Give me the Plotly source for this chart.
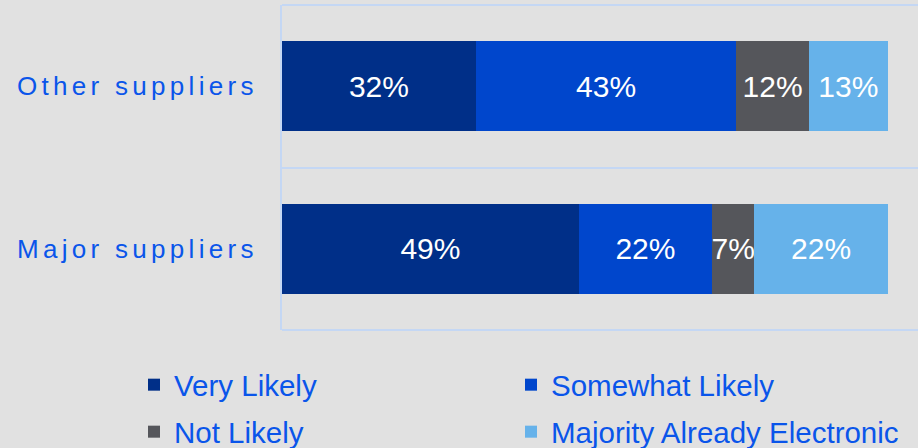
import plotly.graph_objects as go

categories = ["Major suppliers", "Other suppliers"]
series_names = ["Very Likely", "Somewhat Likely", "Not Likely", "Majority Already Electronic"]
very_likely = [49, 32]
somewhat_likely = [22, 43]
not_likely = [7, 12]
majority_electronic = [22, 13]
series_values = [very_likely, somewhat_likely, not_likely, majority_electronic]
colors = ["#002f88", "#0046cc", "#55565b", "#66b2ea"]
legend_ids = ["legend", "legend2", "legend3", "legend4"]

FONT = "Liberation Sans, Arial, sans-serif"
TEXT_BLUE = "#0a55ea"
GRID = "#c4d7f4"

fig = go.Figure()
for name, vals, col, lg in zip(series_names, series_values, colors, legend_ids):
    fig.add_trace(go.Bar(
        name=name, y=categories, x=vals, orientation="h",
        marker=dict(color=col, line=dict(width=0)),
        texttemplate="%{x}%", textposition="inside", insidetextanchor="middle",
        textangle=0,
        textfont=dict(family=FONT, size=30, color="white"),
        constraintext="none", cliponaxis=False, legend=lg,
    ))

tick_text = ['<span style="letter-spacing:4.3px">' + c + '</span>' for c in categories]

legend_common = dict(orientation="h", xref="container", xanchor="left",
                     yref="container", yanchor="middle",
                     font=dict(family=FONT, size=29.5, color=TEXT_BLUE),
                     bgcolor="rgba(0,0,0,0)", borderwidth=0)
# legend slot positions (pixels in the 918x448 figure)
col_px = [134, 511]
row_px = [385, 432]

fig.update_layout(
    barmode="stack",
    bargap=0.445,
    width=918, height=448,
    margin=dict(l=282, r=0, t=5, b=118),
    paper_bgcolor="#e1e1e1",
    plot_bgcolor="#e1e1e1",
    font=dict(family=FONT, color=TEXT_BLUE),
    uniformtext=dict(minsize=30, mode="show"),
    xaxis=dict(range=[0, 105], showgrid=False, showticklabels=False, zeroline=False,
               showline=False, fixedrange=True),
    yaxis=dict(type="category", categoryorder="array", categoryarray=categories,
               range=[-0.5, 1.5], tickson="boundaries", showgrid=True,
               gridcolor=GRID, gridwidth=2, ticks="",
               tickvals=categories, ticktext=tick_text,
               tickfont=dict(family=FONT, size=26, color=TEXT_BLUE),
               ticklabelstandoff=17,
               showline=True, linecolor=GRID, linewidth=2, zeroline=False),
    showlegend=True,
    legend=dict(legend_common, x=col_px[0] / 918, y=1 - row_px[0] / 448),
    legend2=dict(legend_common, x=col_px[1] / 918, y=1 - row_px[0] / 448),
    legend3=dict(legend_common, x=col_px[0] / 918, y=1 - row_px[1] / 448),
    legend4=dict(legend_common, x=col_px[1] / 918, y=1 - row_px[1] / 448),
    shapes=[
        dict(type="line", xref="paper", yref="paper", x0=0, x1=1, y0=1, y1=1,
             line=dict(color=GRID, width=2), layer="below"),
        dict(type="line", xref="paper", yref="paper", x0=0, x1=1, y0=0, y1=0,
             line=dict(color=GRID, width=2), layer="below"),
    ],
)

fig.write_html("out.html")
